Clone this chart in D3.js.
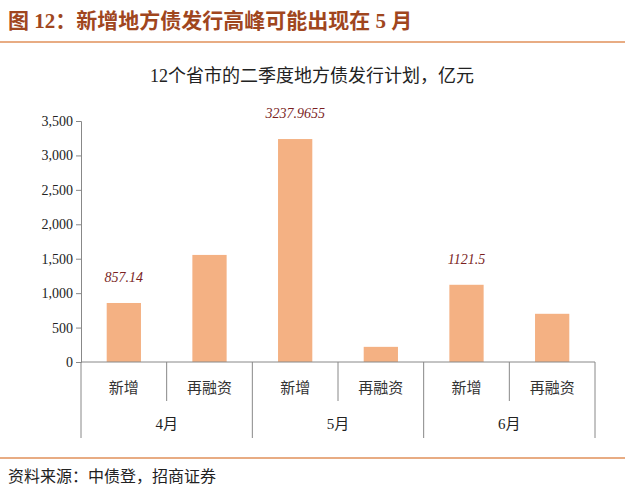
<!DOCTYPE html>
<html><head><meta charset="utf-8">
<script src="https://d3js.org/d3.v7.min.js"></script>
<style>body{margin:0;background:#fff}</style>
</head><body>
<script>
// data
const months  = ["4月","5月","6月"];
const kinds   = ["新增","再融资"];
const values  = [857.14, 1555, 3237.9655, 220, 1121.5, 700];
const labels  = ["857.14", null, "3237.9655", null, "1121.5", null];
const yTicks  = [0,500,1000,1500,2000,2500,3000,3500];

const W = 625, H = 500;
const svg = d3.select("body").append("svg").attr("width",W).attr("height",H);
const serif = "'Liberation Serif','Noto Sans CJK SC',serif";
const cjk = "'Noto Sans CJK SC',sans-serif";

// header
svg.append("text").attr("x",8).attr("y",28)
   .style("font-family",serif).style("font-weight","bold").style("font-size","21px")
   .attr("fill","#a0461e").text("图 12：新增地方债发行高峰可能出现在 5 月");
svg.append("line").attr("x1",0).attr("x2",W).attr("y1",42).attr("y2",42)
   .attr("stroke","#e0915a").attr("stroke-width",1.5);
svg.append("text").attr("x",312).attr("y",82).attr("text-anchor","middle")
   .style("font-family",serif).style("font-size","18px").attr("fill","#222")
   .text("12个省市的二季度地方债发行计划，亿元");

// scales
const cats = d3.range(values.length);
const x = d3.scaleBand().domain(cats).range([81,595]).paddingInner(0.6).paddingOuter(0.3);
const xb = d3.scaleBand().domain(cats).range([81,595]);
const y = d3.scaleLinear().domain([0,3500]).range([362,121]);

// y axis
const ya = svg.append("g").attr("transform","translate(81,0)")
  .call(d3.axisLeft(y).tickValues(yTicks).tickSize(5).tickFormat(d3.format(",")));
ya.select(".domain").attr("stroke","#888");
ya.selectAll(".tick line").attr("stroke","#888");
ya.selectAll("text").style("font-family",serif).style("font-size","14px").attr("fill","#222");

// bars
svg.selectAll("rect.bar").data(values).join("rect")
  .attr("x",(d,i)=>x(i)).attr("width",x.bandwidth())
  .attr("y",d=>y(d)).attr("height",d=>y(0)-y(d)).attr("fill","#f4b183");

const lab = cats.filter(i=>labels[i]);
svg.selectAll("text.val").data(lab).join("text")
  .attr("x",i=>x(i)+x.bandwidth()/2).attr("y",i=>y(values[i])-21)
  .attr("text-anchor","middle").style("font-family",serif).style("font-style","italic")
  .style("font-size","14px").attr("fill","#7b1f1f").text(i=>labels[i]);

// x axis
svg.append("line").attr("x1",81).attr("x2",595).attr("y1",y(0)).attr("y2",y(0)).attr("stroke","#888");
cats.forEach(i=>{
  const left = xb(i), grp = i%2===0;
  svg.append("line").attr("x1",left).attr("x2",left).attr("y1",y(0)).attr("y2",grp?438:401).attr("stroke","#888");
  svg.append("text").attr("x",left+xb.bandwidth()/2).attr("y",393).attr("text-anchor","middle")
    .style("font-family",cjk).style("font-size","15px").attr("fill","#333").text(kinds[i%2]);
});
svg.append("line").attr("x1",595).attr("x2",595).attr("y1",y(0)).attr("y2",438).attr("stroke","#888");
months.forEach((m,j)=>{
  svg.append("text").attr("x",xb(j*2)+xb.bandwidth()).attr("y",429).attr("text-anchor","middle")
    .style("font-family",serif).style("font-size","15px").attr("fill","#222").text(m);
});

// footer
svg.append("line").attr("x1",0).attr("x2",W).attr("y1",458).attr("y2",458)
   .attr("stroke","#e0915a").attr("stroke-width",1.5);
svg.append("text").attr("x",8).attr("y",482)
   .style("font-family",serif).style("font-size","16px").attr("fill","#222")
   .text("资料来源：中债登，招商证券");
</script>
</body></html>
